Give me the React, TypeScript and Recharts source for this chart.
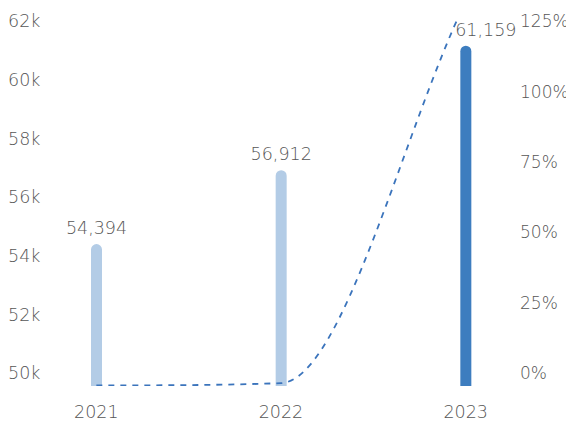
import React from 'react';
import { ComposedChart, Bar, Line, XAxis, YAxis, Cell, LabelList } from 'recharts';

const years = ['2021', '2022', '2023'];
const revenue = [54394, 56912, 61159];
const growthPct = [-4.4, -3.6, 132];
const leftTicks = [50000, 52000, 54000, 56000, 58000, 60000, 62000];
const rightTicks = [0, 25, 50, 75, 100, 125];
const barColors = ['#b3cce6', '#b3cce6', '#3d7dbf'];

const data = years.map((year, i) => ({ year, revenue: revenue[i], growth: growthPct[i] }));

const FONT = '"DejaVu Sans", sans-serif';
const TXT = '#565656';
const FW = 300;
const FS = 17.5;

// Monotone cubic (Fritsch–Carlson, secant tangents at the ends) as a d3-style curve factory
function monotoneSecant(context: any) {
  let xs: number[] = [];
  let ys: number[] = [];
  return {
    areaStart() {},
    areaEnd() {},
    lineStart() {
      xs = [];
      ys = [];
    },
    point(x: number, y: number) {
      xs.push(+x);
      ys.push(+y);
    },
    lineEnd() {
      const n = xs.length;
      if (n === 0) return;
      context.moveTo(xs[0], ys[0]);
      if (n === 1) return;
      const d: number[] = [];
      for (let i = 0; i < n - 1; i++) d.push((ys[i + 1] - ys[i]) / (xs[i + 1] - xs[i]));
      const m: number[] = new Array(n).fill(0);
      m[0] = d[0];
      m[n - 1] = d[n - 2];
      for (let i = 1; i < n - 1; i++) {
        if (d[i - 1] === 0 || d[i] === 0 || Math.sign(d[i - 1]) !== Math.sign(d[i])) m[i] = 0;
        else m[i] = (d[i - 1] + d[i]) / 2;
      }
      for (let i = 0; i < n - 1; i++) {
        if (d[i] === 0) {
          m[i] = 0;
          m[i + 1] = 0;
          continue;
        }
        const a = m[i] / d[i];
        const b = m[i + 1] / d[i];
        const s = a * a + b * b;
        if (s > 9) {
          const tau = 3 / Math.sqrt(s);
          m[i] = a * tau * d[i];
          m[i + 1] = b * tau * d[i];
        }
      }
      for (let i = 0; i < n - 1; i++) {
        const dx = (xs[i + 1] - xs[i]) / 3;
        context.bezierCurveTo(
          xs[i] + dx,
          ys[i] + m[i] * dx,
          xs[i + 1] - dx,
          ys[i + 1] - m[i + 1] * dx,
          xs[i + 1],
          ys[i + 1]
        );
      }
    },
  };
}

const LeftTick = (props: any) => (
  <text x={8} y={props.y} dy="0.36em" textAnchor="start" fill={TXT} fontSize={FS} fontWeight={FW} fontFamily={FONT}>
    {`${props.payload.value / 1000}k`}
  </text>
);

const RightTick = (props: any) => (
  <text x={520} y={props.y} dy="0.36em" textAnchor="start" fill={TXT} fontSize={17} fontWeight={FW} fontFamily={FONT}>
    {`${props.payload.value}%`}
  </text>
);

const BarLabel = (props: any) => {
  const { x, y, width, value, index } = props;
  const shift = index === years.length - 1 ? 20 : 0;
  return (
    <text x={x + width / 2 + shift} y={y - 10} textAnchor="middle" fill={TXT} fontSize={FS} fontWeight={FW} fontFamily={FONT}>
      {Number(value).toLocaleString('en-US')}
    </text>
  );
};

export default function App() {
  return (
    <div style={{ marginLeft: -8, marginTop: -8, width: 574, height: 423, background: '#ffffff' }}>
      <ComposedChart width={574} height={423} data={data} margin={{ top: 21, right: 0, bottom: 0, left: 0 }}>
        <XAxis
          dataKey="year"
          axisLine={false}
          tickLine={false}
          height={37}
          tickMargin={14}
          tick={{ fill: TXT, fontSize: FS, fontWeight: FW, fontFamily: FONT }}
        />
        <YAxis
          yAxisId="left"
          orientation="left"
          width={4}
          domain={[49556, 62000]}
          allowDataOverflow
          ticks={leftTicks}
          axisLine={false}
          tickLine={false}
          tick={<LeftTick />}
        />
        <YAxis
          yAxisId="right"
          orientation="right"
          width={16}
          domain={[-4.62, 125]}
          allowDataOverflow
          ticks={rightTicks}
          axisLine={false}
          tickLine={false}
          tick={<RightTick />}
        />
        <Bar yAxisId="left" dataKey="revenue" barSize={11} radius={[5.5, 5.5, 0, 0]} isAnimationActive={false}>
          {data.map((d, i) => (
            <Cell key={d.year} fill={barColors[i]} />
          ))}
          <LabelList dataKey="revenue" content={<BarLabel />} />
        </Bar>
        <Line
          yAxisId="right"
          type={monotoneSecant as any}
          dataKey="growth"
          stroke="#3b74bc"
          strokeWidth={1.8}
          strokeDasharray="6 6"
          dot={false}
          activeDot={false}
          isAnimationActive={false}
        />
      </ComposedChart>
    </div>
  );
}
